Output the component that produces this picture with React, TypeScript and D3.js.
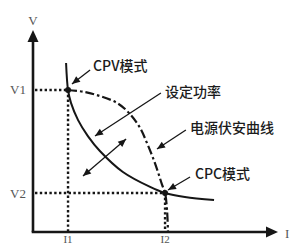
import React from "react";
import * as d3 from "d3";

// Data (abstract units: I horizontal 0..10, V vertical 0..10)
const I_MAX = 10;
const V_MAX = 10;
const V1 = 7.03;
const V2 = 1.93;
const I1 = 1.43;
const I2 = 5.39;

// constant power curve (solid)
const powerCurveI = [1.35, 1.43, 1.55, 1.84, 2.24, 2.73, 3.67, 4.78, 5.39, 6.2, 7.39];
const powerCurveV = [8.37, 7.03, 6.39, 5.54, 4.75, 4.01, 2.97, 2.23, 1.93, 1.73, 1.58];

// PV source I-V curve (dash-dot)
const sourceCurveI = [1.43, 2.12, 2.73, 3.43, 3.96, 4.37, 4.65, 4.9, 5.1, 5.27, 5.39, 5.47, 5.51];
const sourceCurveV = [7.03, 6.93, 6.73, 6.39, 5.84, 5.15, 4.41, 3.66, 2.97, 2.33, 1.93, 1.09, 0];

// annotations: [fromI, fromV, toI, toV]
const annLabels = ["CPV模式", "设定功率", "电源伏安曲线", "CPC模式"];
const annTextPos = [
  [2.45, 8.27],
  [5.39, 6.98],
  [6.41, 5.2],
  [6.61, 2.92],
];
const annArrows = [
  [2.33, 8.02, 1.59, 7.33],
  [5.22, 6.88, 2.53, 4.75],
  [6.24, 5.05, 5.06, 4.11],
  [6.41, 2.72, 5.51, 2.08],
];
const doubleArrow = [2.04, 2.77, 3.8, 4.6];

const W = 295;
const H = 244;

function head(x1: number, y1: number, x2: number, y2: number, len: number, half: number) {
  const dx = x2 - x1;
  const dy = y2 - y1;
  const L = Math.hypot(dx, dy);
  const ux = dx / L;
  const uy = dy / L;
  const bx = x2 - ux * len;
  const by = y2 - uy * len;
  const px = -uy * half;
  const py = ux * half;
  return `${x2},${y2} ${bx + px},${by + py} ${bx - px},${by - py}`;
}

export default function App() {
  const x = d3.scaleLinear().domain([0, I_MAX]).range([33, 278]);
  const y = d3.scaleLinear().domain([0, V_MAX]).range([232, 30]);

  const line = d3
    .line<[number, number]>()
    .x((d) => x(d[0]))
    .y((d) => y(d[1]))
    .curve(d3.curveCatmullRom.alpha(0.5));

  const powerPts: [number, number][] = powerCurveI.map((v, i) => [v, powerCurveV[i]]);
  const sourcePts: [number, number][] = sourceCurveI.map((v, i) => [v, sourceCurveV[i]]);

  const ink = "#161616";
  const cjk = "'Noto Sans CJK SC', 'Noto Sans', sans-serif";
  const serif = "'Liberation Serif', 'DejaVu Serif', serif";

  const x0 = x(0);
  const y0 = y(0);

  return (
    <div style={{ position: "fixed", left: 0, top: 0 }}>
      <svg width={W} height={H} style={{ display: "block", background: "#fff" }}>
        {/* dotted guide lines */}
        <g stroke={ink} strokeWidth={2.4} strokeDasharray="2.4,2.4" fill="none">
          <line x1={x0 + 2} y1={y(V1)} x2={x(I1)} y2={y(V1)} />
          <line x1={x(I1)} y1={y(V1)} x2={x(I1)} y2={y0} />
          <line x1={x0 + 2} y1={y(V2)} x2={x(I2)} y2={y(V2)} />
          <line x1={x(I2)} y1={y(V2)} x2={x(I2)} y2={y0} />
        </g>

        {/* source curve dash-dot */}
        <path
          d={line(sourcePts) || ""}
          fill="none"
          stroke={ink}
          strokeWidth={2.2}
          strokeDasharray="9,3,2.5,3"
        />
        {/* constant power curve */}
        <path d={line(powerPts) || ""} fill="none" stroke={ink} strokeWidth={2} />

        {/* axes */}
        <line x1={x0} y1={y0} x2={x0} y2={y(V_MAX) + 8} stroke={ink} strokeWidth={2.6} />
        <line x1={x0 - 1.3} y1={y0} x2={x(I_MAX) - 8} y2={y0} stroke={ink} strokeWidth={2.6} />
        <polygon points={head(x0, y0, x0, y(V_MAX), 12, 5.5)} fill={ink} />
        <polygon points={head(x0, y0, x(I_MAX), y0, 12, 5.5)} fill={ink} />

        {/* points */}
        <circle cx={x(I1)} cy={y(V1)} r={3} fill={ink} />
        <circle cx={x(I2)} cy={y(V2)} r={3} fill={ink} />

        {/* annotation arrows */}
        {annArrows.map((a, i) => {
          const [fx, fy, tx, ty] = [x(a[0]), y(a[1]), x(a[2]), y(a[3])];
          return (
            <g key={i}>
              <line x1={fx} y1={fy} x2={tx} y2={ty} stroke={ink} strokeWidth={1.3} />
              <polygon points={head(fx, fy, tx, ty, 8, 3.5)} fill={ink} />
            </g>
          );
        })}
        {(() => {
          const [fx, fy, tx, ty] = [x(doubleArrow[0]), y(doubleArrow[1]), x(doubleArrow[2]), y(doubleArrow[3])];
          return (
            <g>
              <line x1={fx} y1={fy} x2={tx} y2={ty} stroke={ink} strokeWidth={1.3} />
              <polygon points={head(fx, fy, tx, ty, 8, 3.5)} fill={ink} />
              <polygon points={head(tx, ty, fx, fy, 8, 3.5)} fill={ink} />
            </g>
          );
        })()}

        {/* annotation texts */}
        {annLabels.map((t, i) => (
          <text
            key={t}
            x={x(annTextPos[i][0])}
            y={y(annTextPos[i][1])}
            dominantBaseline="central"
            fontFamily={cjk}
            fontSize={14}
            fontWeight={500}
            fill="#1c1c1c"
          >
            {t}
          </text>
        ))}

        {/* axis labels */}
        <g fontFamily={serif} fontSize={13} fill="#555">
          <text x={x0} y={20} textAnchor="middle" dominantBaseline="central">V</text>
          <text x={x(I_MAX) + 7} y={y0 + 1} dominantBaseline="central">I</text>
          <text x={x0 - 7} y={y(V1)} textAnchor="end" dominantBaseline="central">V1</text>
          <text x={x0 - 7} y={y(V2)} textAnchor="end" dominantBaseline="central">V2</text>
        </g>
        <g fontFamily={serif} fontSize={11} fill="#555">
          <text x={x(I1)} y={243} textAnchor="middle">I1</text>
          <text x={x(I2)} y={243} textAnchor="middle">I2</text>
        </g>
      </svg>
    </div>
  );
}
